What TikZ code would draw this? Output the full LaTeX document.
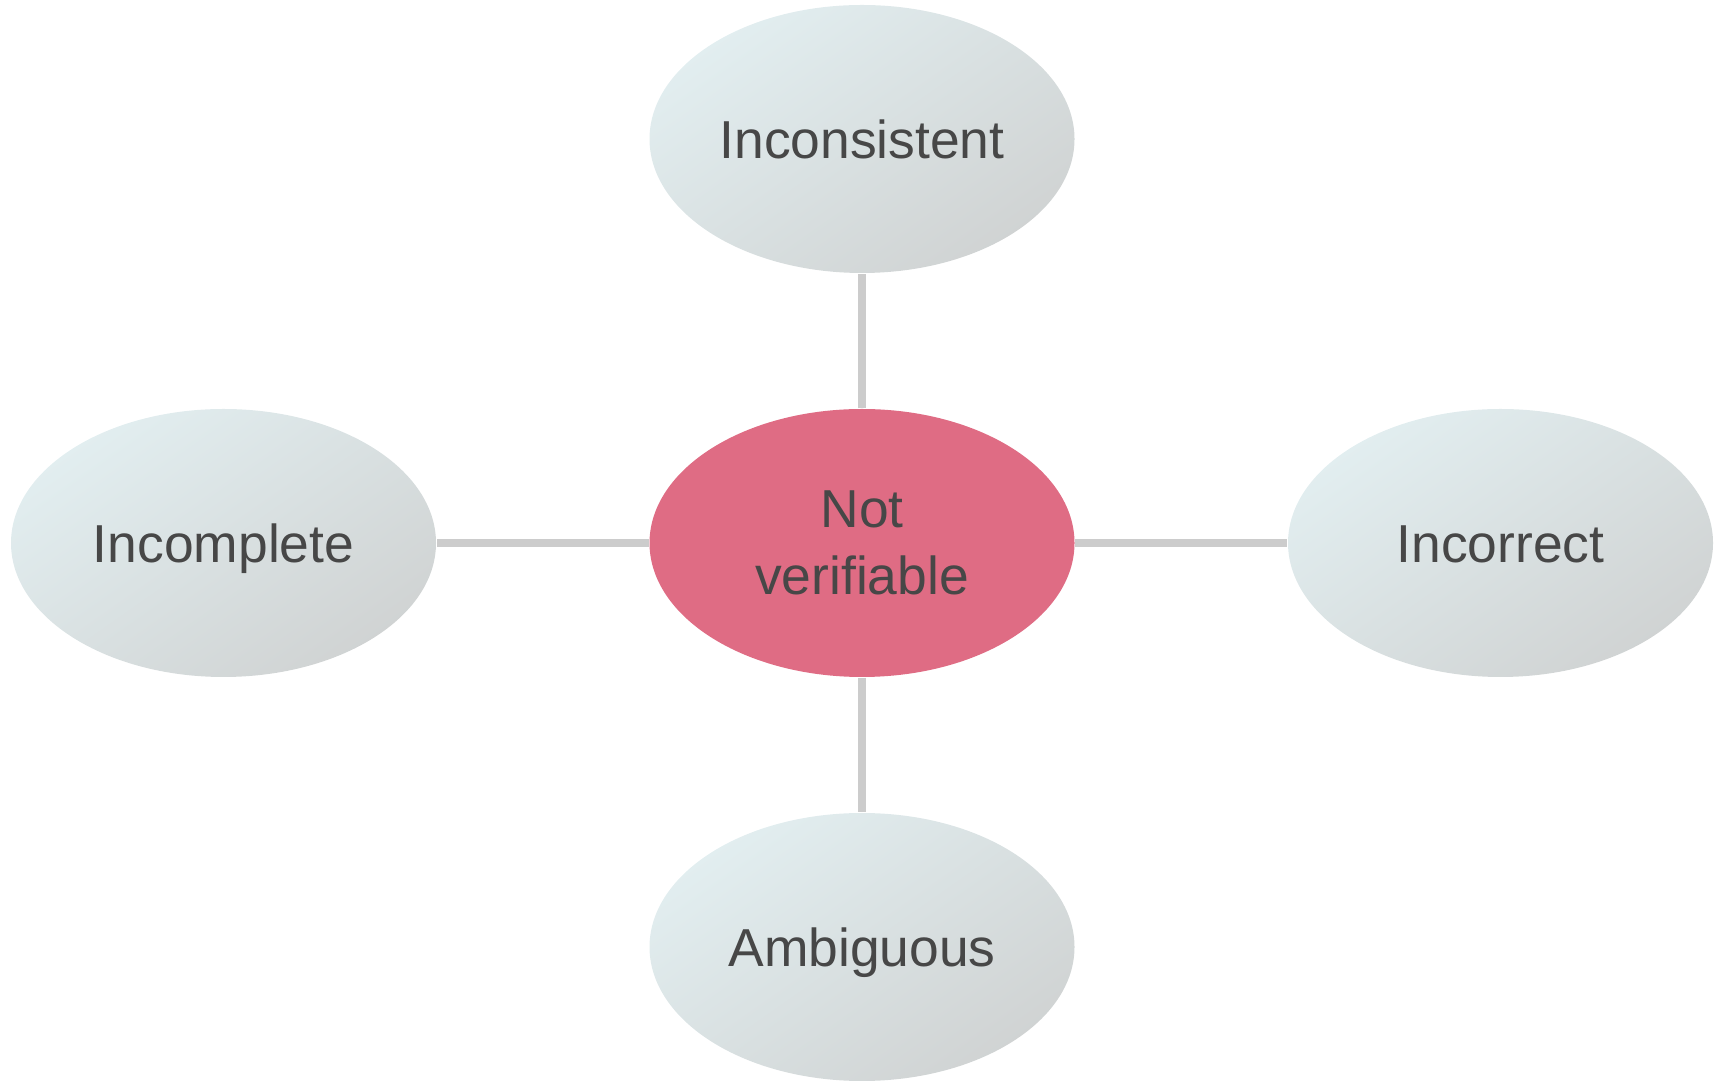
\documentclass[tikz,border=0pt]{standalone}
\usepackage{fontspec}
\setmainfont{Liberation Sans}
\usetikzlibrary{shapes.geometric}
\definecolor{leafA}{HTML}{E2EEF0}
\definecolor{leafB}{HTML}{D0D3D3}
\definecolor{rootfill}{HTML}{DF6C84}
\definecolor{txt}{HTML}{474747}
\definecolor{edge}{HTML}{CCCCCC}
\begin{document}
\begin{tikzpicture}[
  blob/.style={ellipse,minimum width=4.25cm,minimum height=2.68cm,inner sep=0pt,
    text=txt,align=center,font=\fontsize{15.2}{19}\selectfont},
  leaf/.style={blob,top color=leafA,bottom color=leafB,shading angle=35,
    text height=10.9pt,text depth=0pt},
  root/.style={blob,fill=rootfill},
  link/.style={draw=edge,line width=2pt}]
\useasboundingbox (0,0) rectangle (17.18,-10.81);
\node[root] (NV)at(8.62,-5.43){Not\\verifiable};
\node[leaf] (Ics)at(8.62,-1.39){Inconsistent};
\node[leaf] (Icp)at(2.235,-5.43){Incomplete};
\node[leaf] (Icr)at(15.005,-5.43){Incorrect};
\node[leaf] (Amb)at(8.62,-9.47){Ambiguous};
\draw [link] (NV)--(Ics);
\draw [link] (NV)--(Icp);
\draw [link] (NV)--(Icr);
\draw [link] (NV)--(Amb);
\end{tikzpicture}
\end{document}
